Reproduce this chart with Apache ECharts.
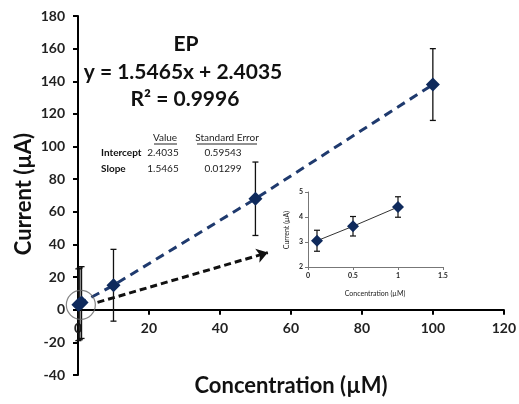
<!DOCTYPE html>
<html><head><meta charset="utf-8">
<script src="https://cdn.jsdelivr.net/npm/echarts@6/dist/echarts.min.js"></script>
<style>html,body{margin:0;padding:0;background:#fff}#c{width:519px;height:404px}</style>
</head><body><div id="c"></div>
<script>
// Main chart data
const concentrations = [0.1, 0.5, 1, 10, 50, 100];
const currents = [3.05, 3.63, 4.4, 15, 68, 138];
const currentErrors = [22, 22, 22, 22, 22.5, 22];
// Inset data
const insetConc = [0.1, 0.5, 1];
const insetCurrent = [3.05, 3.63, 4.4];
const insetErrors = [0.42, 0.39, 0.41];
// Annotation arrow (data coords) and zoom circle
const arrowFrom = [5.5, 4.5];
const arrowTo = [53.5, 35];
const circleAt = [0.8, 3];
// Texts
const titleLines = ['EP', 'y = 1.5465x + 2.4035', 'R\u00b2 = 0.9996'];
const tableHeaders = ['Value', 'Standard Error'];
const tableRows = [['Intercept', '2.4035', '0.59543'], ['Slope', '1.5465', '0.01299']];

const mainPts = concentrations.map((x, i) => [x, currents[i], currentErrors[i]]);
const insetPts = insetConc.map((x, i) => [x, insetCurrent[i], insetErrors[i]]);

function errRender(capW, lw) {
  return function (params, api) {
    const x = api.value(0), y = api.value(1), e = api.value(2);
    const hi = api.coord([x, y + e]), lo = api.coord([x, y - e]);
    const st = { stroke: '#111', lineWidth: lw };
    return { type: 'group', children: [
      { type: 'line', shape: { x1: hi[0], y1: hi[1], x2: lo[0], y2: lo[1] }, style: st },
      { type: 'line', shape: { x1: hi[0] - capW, y1: hi[1], x2: hi[0] + capW, y2: hi[1] }, style: st },
      { type: 'line', shape: { x1: lo[0] - capW, y1: lo[1], x2: lo[0] + capW, y2: lo[1] }, style: st }
    ]};
  };
}

const F = 'Lato, "Open Sans", sans-serif';
const chart = echarts.init(document.getElementById('c'), null, { renderer: 'canvas' });

const gridTop = 16, gridBottom = 29, H = 404;
const yMin = -40, yMax = 180;
const plotH = H - gridTop - gridBottom;
// shift x axis up so it crosses the y axis at zero
const xAxisOffset = -(plotH * (0 - yMin) / (yMax - yMin));

const graphics = [
  { type: 'text', x: 186, y: 44, style: { text: titleLines[0], font: 'bold 21px ' + F, fill: '#111', align: 'center', verticalAlign: 'middle' } },
  { type: 'text', x: 183, y: 72, style: { text: titleLines[1], font: 'bold 21px ' + F, fill: '#111', align: 'center', verticalAlign: 'middle' } },
  { type: 'text', x: 185, y: 99, style: { text: titleLines[2], font: 'bold 21px ' + F, fill: '#111', align: 'center', verticalAlign: 'middle' } },
  { type: 'text', x: 165, y: 138, style: { text: tableHeaders[0], font: '10px ' + F, fill: '#222', align: 'center', verticalAlign: 'middle' } },
  { type: 'text', x: 227, y: 138, style: { text: tableHeaders[1], font: '10px ' + F, fill: '#222', align: 'center', verticalAlign: 'middle' } },
  { type: 'line', shape: { x1: 154, y1: 144, x2: 177, y2: 144 }, style: { stroke: '#222', lineWidth: 1 } },
  { type: 'line', shape: { x1: 197, y1: 144, x2: 257, y2: 144 }, style: { stroke: '#222', lineWidth: 1 } },
  { type: 'text', x: 24, y: 194, rotation: Math.PI / 2, style: { text: 'Current (\u00b5A)', font: 'bold 22px ' + F, fill: '#111', align: 'center', verticalAlign: 'middle' } },
  { type: 'text', x: 291, y: 386, style: { text: 'Concentration (\u00b5M)', font: 'bold 22px ' + F, fill: '#111', align: 'center', verticalAlign: 'middle' } },
  { type: 'text', x: 287, y: 230, rotation: Math.PI / 2, style: { text: 'Current (\u00b5A)', font: '7px ' + F, fill: '#222', align: 'center', verticalAlign: 'middle' } },
  { type: 'text', x: 375, y: 294, style: { text: 'Concentration (\u00b5M)', font: '7px ' + F, fill: '#222', align: 'center', verticalAlign: 'middle' } }
];
tableRows.forEach((r, i) => {
  const y = 153 + i * 16;
  graphics.push({ type: 'text', x: 101, y: y, style: { text: r[0], font: 'bold 10px ' + F, fill: '#111', align: 'left', verticalAlign: 'middle' } });
  graphics.push({ type: 'text', x: 163, y: y, style: { text: r[1], font: '10px ' + F, fill: '#222', align: 'center', verticalAlign: 'middle' } });
  graphics.push({ type: 'text', x: 223, y: y, style: { text: r[2], font: '10px ' + F, fill: '#222', align: 'center', verticalAlign: 'middle' } });
});

chart.setOption({
  animation: false,
  backgroundColor: '#fff',
  grid: [
    { left: 78, right: 13, top: gridTop, bottom: gridBottom },
    { left: 308, right: 76, top: 192, bottom: 137 }
  ],
  xAxis: [
    { gridIndex: 0, type: 'value', min: 0, max: 120, interval: 20, splitLine: { show: false },
      position: 'bottom', offset: xAxisOffset,
      axisLine: { onZero: false, lineStyle: { color: '#000', width: 2 } },
      axisTick: { show: true, inside: false, length: 5, lineStyle: { color: '#000', width: 2 } },
      axisLabel: { margin: 12, color: '#222', fontFamily: F, fontWeight: 'bold', fontSize: 14 } },
    { gridIndex: 1, type: 'value', min: 0, max: 1.5, interval: 0.5, splitLine: { show: false },
      axisLine: { onZero: false, lineStyle: { color: '#777', width: 1 } },
      axisTick: { show: true, length: 3, lineStyle: { color: '#777' } },
      axisLabel: { margin: 5, color: '#222', fontFamily: F, fontSize: 7, fontWeight: 'bold' } }
  ],
  yAxis: [
    { gridIndex: 0, type: 'value', min: yMin, max: yMax, interval: 20, splitLine: { show: false },
      axisLine: { show: true, onZero: false, lineStyle: { color: '#000', width: 2 } },
      axisTick: { show: true, length: 5, lineStyle: { color: '#000', width: 2 } },
      axisLabel: { margin: 13, color: '#222', fontFamily: F, fontWeight: 'bold', fontSize: 14 } },
    { gridIndex: 1, type: 'value', min: 2, max: 5, interval: 1, splitLine: { show: false },
      axisLine: { show: true, onZero: false, lineStyle: { color: '#777', width: 1 } },
      axisTick: { show: true, length: 3, lineStyle: { color: '#777' } },
      axisLabel: { margin: 5, color: '#222', fontFamily: F, fontSize: 7, fontWeight: 'bold' } }
  ],
  series: [
    { type: 'custom', xAxisIndex: 0, yAxisIndex: 0, renderItem: errRender(3, 1.3), data: mainPts, z: 3 },
    { type: 'line', xAxisIndex: 0, yAxisIndex: 0, data: mainPts.map(p => [p[0], p[1]]),
      symbol: 'diamond', symbolSize: 14, showSymbol: true,
      lineStyle: { color: '#1f3a6e', width: 3, type: [9, 6] },
      itemStyle: { color: '#0f2a5c' }, z: 4 },
    { type: 'lines', coordinateSystem: 'cartesian2d', xAxisIndex: 0, yAxisIndex: 0,
      symbol: ['none', 'arrow'], symbolSize: 11,
      lineStyle: { color: '#111', width: 3, type: [7, 4], opacity: 1 },
      data: [{ coords: [arrowFrom, arrowTo] }], z: 5 },
    { type: 'scatter', xAxisIndex: 0, yAxisIndex: 0, data: [circleAt], symbol: 'circle', symbolSize: 29,
      itemStyle: { color: 'rgba(0,0,0,0)', borderColor: '#666', borderWidth: 1.2 }, z: 6 },
    { type: 'custom', xAxisIndex: 1, yAxisIndex: 1, renderItem: errRender(3, 1.2), data: insetPts, z: 3 },
    { type: 'line', xAxisIndex: 1, yAxisIndex: 1, data: insetPts.map(p => [p[0], p[1]]),
      symbol: 'diamond', symbolSize: 12,
      lineStyle: { color: '#333', width: 1 },
      itemStyle: { color: '#0f2a5c' }, z: 4 }
  ],
  graphic: graphics
});
</script></body></html>
